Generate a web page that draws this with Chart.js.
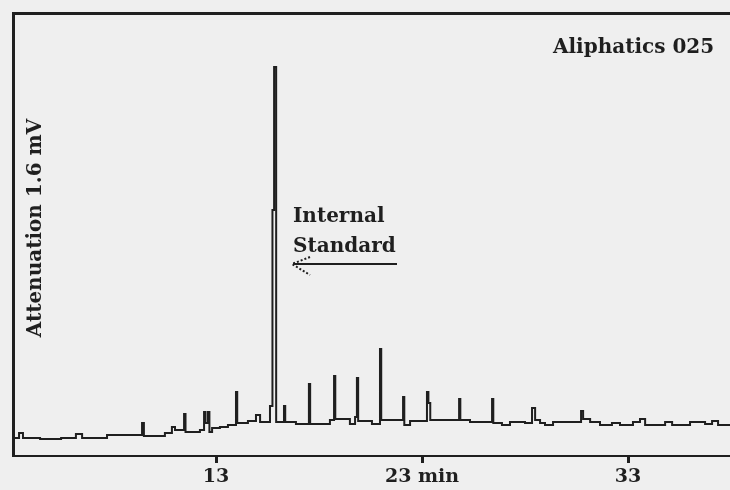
<!DOCTYPE html>
<html>
<head>
<meta charset="utf-8">
<script src="https://cdn.jsdelivr.net/npm/chart.js@4/dist/chart.umd.min.js"></script>
<style>
  html, body { margin: 0; padding: 0; background: #efefef; }
  #wrap { width: 730px; height: 490px; position: relative; }
</style>
</head>
<body>
<div id="wrap"><canvas id="gc-chart"></canvas></div>
<script>
// retention time (min) where the detector trace changes level, and the level it goes to
var retentionTime = [
  3.15, 3.44, 3.63, 4.46, 5.48, 6.20, 6.50, 7.71, 9.41, 9.50,
  10.52, 10.86, 11.01, 11.45, 11.52, 12.22, 12.42, 12.49, 12.61, 12.68,
  12.81, 13.19, 13.58, 13.97, 14.03, 14.55, 14.94, 15.14, 15.62, 15.74,
  15.82, 15.92, 16.30, 16.36, 16.88, 17.51, 17.57, 18.53, 18.73, 18.79,
  19.50, 19.75, 19.84, 19.90, 20.57, 20.96, 21.02, 22.08, 22.14, 22.42,
  23.24, 23.31, 23.40, 24.80, 24.86, 25.33, 26.40, 26.46, 26.88, 27.27,
  28.00, 28.34, 28.49, 28.73, 28.97, 29.36, 30.72, 30.82, 31.16, 31.64,
  32.22, 32.61, 33.24, 33.58, 33.83, 34.80, 35.14, 36.01, 36.74, 37.08,
  37.37, 37.95
];
var detectorSignal = [
  18, 23, 18, 17, 18, 22, 18, 21, 33, 20,
  23, 29, 26, 42, 24, 26, 44, 33, 44, 24,
  28, 29, 31, 64, 33, 35, 41, 34, 50, 246,
  389, 34, 50, 34, 32, 72, 32, 36, 80, 37,
  32, 39, 78, 35, 32, 107, 36, 59, 31, 35,
  64, 53, 36, 57, 36, 34, 57, 33, 31, 34,
  33, 48, 36, 33, 31, 34, 45, 37, 34, 31,
  33, 31, 34, 37, 31, 34, 31, 34, 32, 35,
  31, 31
];
var tickValues = [13, 23, 33];
var tickLabels = ['13', '23 min', '33'];

var ink = '#1f1f1f';
var serif = '"DejaVu Serif", "Liberation Serif", serif';

var points = [];
for (var i = 0; i < retentionTime.length; i++) {
  points.push({ x: retentionTime[i], y: detectorSignal[i] });
}

// labels written onto the plot like on the recorder paper
var paperNotes = {
  id: 'paperNotes',
  afterDraw: function (chart) {
    var ctx = chart.ctx;
    ctx.save();
    ctx.fillStyle = ink;
    ctx.strokeStyle = ink;
    ctx.font = 'bold 20px ' + serif;
    ctx.textBaseline = 'alphabetic';
    ctx.textAlign = 'left';
    ctx.fillText('Aliphatics 025', 553, 53);
    ctx.fillText('Internal', 293, 222);
    ctx.fillText('Standard', 293, 252);

    // arrow pointing at the internal standard peak
    ctx.lineWidth = 2;
    ctx.beginPath();
    ctx.moveTo(293, 264);
    ctx.lineTo(397, 264);
    ctx.stroke();
    ctx.setLineDash([2, 2]);
    ctx.beginPath();
    ctx.moveTo(310, 257);
    ctx.lineTo(292, 264);
    ctx.lineTo(310, 275);
    ctx.stroke();
    ctx.setLineDash([]);

    ctx.translate(36, 228);
    ctx.rotate(-Math.PI / 2);
    ctx.textAlign = 'center';
    ctx.textBaseline = 'middle';
    ctx.fillText('Attenuation 1.6 mV', 0, 0);
    ctx.restore();
  }
};

var chartOptions = {
  type: 'line',
  data: {
    datasets: [{
      data: points,
      stepped: true,
      borderColor: ink,
      borderWidth: 2,
      pointRadius: 0,
      fill: false
    }]
  },
  options: {
    responsive: true,
    maintainAspectRatio: false,
    animation: false,
    layout: { padding: { left: 13, top: 13, right: 0, bottom: 0 } },
    plugins: {
      legend: { display: false },
      tooltip: { enabled: false }
    },
    scales: {
      x: {
        type: 'linear',
        position: 'bottom',
        min: 3.146,
        max: 37.95,
        afterBuildTicks: function (scale) {
          scale.ticks = tickValues.map(function (v) { return { value: v }; });
        },
        afterFit: function (scale) { scale.height = 34; },
        ticks: {
          autoSkip: false,
          maxRotation: 0,
          padding: 3,
          color: ink,
          font: { family: serif, size: 19, weight: 'bold' },
          callback: function (value) {
            var k = tickValues.indexOf(value);
            return k >= 0 ? tickLabels[k] : '';
          }
        },
        grid: {
          display: true,
          drawOnChartArea: false,
          drawTicks: true,
          tickLength: 7,
          tickWidth: 3,
          tickColor: ink
        },
        border: { display: true, color: ink, width: 2 }
      },
      xTop: {
        type: 'linear',
        position: 'top',
        min: 3.146,
        max: 37.95,
        afterFit: function (scale) { scale.height = 0; },
        ticks: { display: false },
        grid: { display: false },
        border: { display: true, color: ink, width: 3 }
      },
      y: {
        type: 'linear',
        min: 0,
        max: 443,
        afterFit: function (scale) { scale.width = 0; },
        ticks: { display: false },
        grid: { display: false },
        border: { display: true, color: ink, width: 3 }
      }
    }
  },
  plugins: [paperNotes]
};

var canvas = document.getElementById('gc-chart');
var gchart = new Chart(canvas, chartOptions);
</script>
</body>
</html>
